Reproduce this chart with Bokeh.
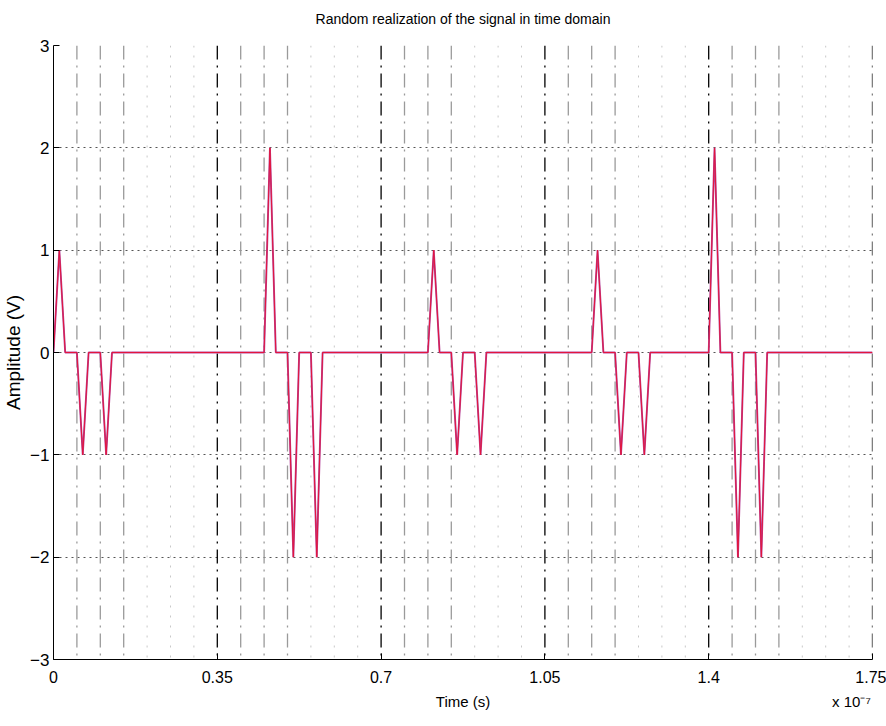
from bokeh.plotting import figure
from bokeh.models import Range1d, FixedTicker, LinearAxis
from bokeh.embed import file_html
from bokeh.resources import INLINE

# ---- data (time in ns, amplitude in V) ----
PULSE_START_NS = [0, 5, 10, 45, 50, 55, 80, 85, 90, 115, 120, 125, 140, 145, 150]
PULSE_AMP = [1, -1, -1, 2, -2, -2, 1, -1, -1, 1, -1, -1, 2, -2, -2]
SAMPLE_NS = 1.25          # sampling step of the waveform
T_END_NS = 175
FRAME_NS = 35             # frame length
CHIP_NS = 5               # chip length
N_FRAMES = 5
X_TICKS = [0, 0.35, 0.7, 1.05, 1.4, 1.75]          # in units of 1e-7 s
X_TICK_LABELS = ["0", "0.35", "0.7", "1.05", "1.4", "1.75"]
Y_TICKS = [-3, -2, -1, 0, 1, 2, 3]
Y_TICK_LABELS = ["\u22123", "\u22122", "\u22121", "0", "1", "2", "3"]
TITLE = "Random realization of the signal in time domain"
X_LABEL = "Time (s)"
X_EXPONENT = "x 10\u207b\u2077"

SCALE = 1e-9 / 1e-7  # ns -> units of 1e-7 s

# waveform vertices built from the pulse list
t = [0.0]
v = [0.0]
for s, a in zip(PULSE_START_NS, PULSE_AMP):
    if t[-1] != s:
        t.append(s); v.append(0.0)
    t.append(s + SAMPLE_NS); v.append(a)
    t.append(s + 2 * SAMPLE_NS); v.append(0.0)
t.append(T_END_NS); v.append(0.0)
tx = [x * SCALE for x in t]

frame_lines = [k * FRAME_NS * SCALE for k in range(1, N_FRAMES + 1)]
chip_near = [(k * FRAME_NS + j * CHIP_NS) * SCALE for k in range(N_FRAMES) for j in (1, 2, 3)]
chip_far = [(k * FRAME_NS + j * CHIP_NS) * SCALE for k in range(N_FRAMES) for j in (4, 5, 6)]

SANS = "Liberation Sans"

p = figure(width=886, height=726, output_backend="svg", toolbar_location=None,
           x_range=Range1d(0, 1.75), y_range=Range1d(-3, 3),
           min_border_left=51, min_border_right=14, min_border_top=45, min_border_bottom=67)
p.background_fill_color = "white"
p.border_fill_color = "white"
p.outline_line_color = None

# vertical frame / chip lines
p.segment(x0=chip_far, y0=[3] * len(chip_far), x1=chip_far, y1=[-3] * len(chip_far),
          line_color="#c8c8c8", line_width=1, line_dash="2 8")
p.segment(x0=chip_near, y0=[3] * len(chip_near), x1=chip_near, y1=[-3] * len(chip_near),
          line_color="#9a9a9a", line_width=1.3, line_dash="14 6 2 6")
p.segment(x0=frame_lines, y0=[3] * len(frame_lines), x1=frame_lines, y1=[-3] * len(frame_lines),
          line_color="#000000", line_width=1.3, line_dash="14 6 2 6")

# signal
p.line(tx, v, line_color="#b4479c", line_width=1.9)
p.line(tx, v, line_color="#e3153d", line_width=1.0)

# grid
p.xgrid.grid_line_color = None
p.ygrid.grid_line_color = "#555555"
p.ygrid.grid_line_dash = "2 4"
p.ygrid.grid_line_width = 1

# axes
p.xaxis.ticker = FixedTicker(ticks=X_TICKS)
p.xaxis.major_label_overrides = dict(zip(X_TICKS, X_TICK_LABELS))
p.yaxis.ticker = FixedTicker(ticks=Y_TICKS)
p.yaxis.major_label_overrides = dict(zip(Y_TICKS, Y_TICK_LABELS))
for ax in (p.xaxis[0], p.yaxis[0]):
    ax.axis_line_color = "black"
    ax.axis_line_width = 1
    ax.major_tick_in = 6
    ax.major_tick_out = 0
    ax.major_tick_line_color = "black"
    ax.minor_tick_line_color = None
    ax.major_label_text_color = "black"
    ax.axis_label_text_color = "black"
    ax.axis_label_text_font_style = "normal"

p.xaxis.major_label_text_font = SANS
p.xaxis.major_label_text_font_size = "16px"
p.xaxis.major_label_standoff = 11

p.yaxis.major_label_text_font = SANS
p.yaxis.major_label_text_font_size = "17px"
p.yaxis.major_label_standoff = 4
p.yaxis.axis_label = "Amplitude (V)"
p.yaxis.axis_label_text_font = SANS
p.yaxis.axis_label_text_font_size = "19px"
p.yaxis.axis_label_standoff = 3


def text_row(positions, texts, side, standoff, size):
    ax = LinearAxis(ticker=FixedTicker(ticks=positions),
                    major_label_overrides=dict(zip(positions, texts)))
    ax.axis_line_color = None
    ax.major_tick_line_color = None
    ax.minor_tick_line_color = None
    ax.major_tick_in = 0
    ax.major_tick_out = 0
    ax.major_label_standoff = standoff
    ax.major_label_text_font = SANS
    ax.major_label_text_font_size = size
    ax.major_label_text_color = "black"
    p.add_layout(ax, side)


# title row above the plot, centred on the frame
text_row([0.875], [TITLE], "above", 19, "14px")
# row below the x axis: axis title and the x10^-7 exponent
text_row([0.875, 1.705], [X_LABEL, X_EXPONENT], "below", 7, "15px")

open("out.html", "w").write(file_html(p, INLINE))
